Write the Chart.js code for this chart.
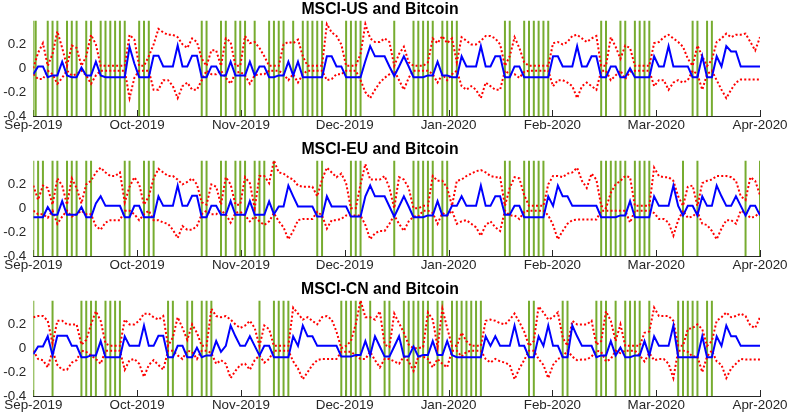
<!DOCTYPE html>
<html><head><meta charset="utf-8">
<script src="https://cdn.jsdelivr.net/npm/chart.js@4"></script>
<style>
html,body{margin:0;padding:0;background:#fff;}
#wrap{position:relative;width:790px;height:416px;overflow:hidden;background:#fff;}
.panel{position:absolute;left:0;width:790px;height:140px;}
</style></head><body>
<div id="wrap">
<div class="panel" style="top:0px"><canvas id="c0" width="790" height="140"></canvas></div>
<div class="panel" style="top:140px"><canvas id="c1" width="790" height="140"></canvas></div>
<div class="panel" style="top:280px"><canvas id="c2" width="790" height="140"></canvas></div>
</div>
<script>
const monthLabels = ['Sep-2019','Oct-2019','Nov-2019','Dec-2019','Jan-2020','Feb-2020','Mar-2020','Apr-2020'];
const yTickValues = [-0.4, -0.2, 0, 0.2];
const yMin = -0.4, yMax = 0.4;
const titles = ['MSCI-US and Bitcoin', 'MSCI-EU and Bitcoin', 'MSCI-CN and Bitcoin'];

// ---------- MSCI-US ----------
const usMid = [
-0.05,0.015,0.015,-0.075,-0.06,-0.06,0.055,-0.06,-0.075,-0.075,
0.005,-0.06,-0.06,0.055,-0.06,-0.075,-0.075,-0.075,-0.075,-0.075,
0.18,0.04,-0.075,-0.075,-0.075,0.105,0.105,0.015,0.015,0.015,
0.19,0.015,0.015,0.105,0.105,-0.075,-0.075,0.015,0.015,-0.06,
-0.06,0.055,-0.06,-0.06,-0.06,0.055,-0.06,0.015,0.015,-0.075,
-0.075,-0.06,-0.06,0.055,-0.06,0.055,-0.075,-0.075,-0.075,-0.075,
-0.075,0.1,0.1,0.015,0.015,-0.075,-0.075,-0.075,-0.075,0.06,
0.185,0.1,0.1,0.1,0.015,-0.065,0.015,0.1,0.015,-0.075,
-0.075,-0.075,-0.06,-0.06,0.055,-0.06,-0.06,-0.075,-0.075,0.1,
0.015,0.015,0.015,0.185,0.015,0.015,0.1,0.1,-0.075,-0.075,
0.015,0.015,-0.075,-0.075,-0.075,-0.075,-0.075,-0.075,0.1,0.1,
0.015,0.015,0.015,0.185,0.015,0.015,0.1,0.1,-0.075,-0.075,
0.015,0.015,-0.075,-0.075,0.0,-0.075,-0.075,-0.075,-0.075,0.1,
0.015,0.015,0.185,0.015,0.015,0.015,0.015,-0.075,-0.075,0.1,
-0.075,-0.075,0.1,0.015,0.185,0.14,0.14,0.015,0.015,0.015,
0.015,0.015];
const usHi = [
0.0,0.13,0.21,0.02,0.12,0.31,0.17,0.02,0.19,0.17,
0.02,0.1,0.28,0.2,0.02,0.02,0.02,0.02,0.02,0.02,
0.28,0.24,0.02,0.02,0.1,0.2,0.33,0.3,0.28,0.28,
0.26,0.2,0.17,0.25,0.22,0.08,0.02,0.15,0.15,0.02,
0.25,0.22,0.02,0.02,0.27,0.21,0.22,0.17,0.1,0.02,
0.02,0.02,0.2,0.22,0.21,0.24,0.1,0.02,0.02,0.02,
0.02,0.37,0.3,0.27,0.2,0.02,0.02,0.02,0.12,0.37,
0.25,0.22,0.22,0.25,0.22,0.02,0.12,0.18,0.05,0.02,
0.02,0.02,0.05,0.25,0.21,0.27,0.21,0.25,0.05,0.26,
0.23,0.2,0.2,0.23,0.27,0.27,0.25,0.2,0.02,0.1,
0.26,0.17,0.05,0.02,0.02,0.02,0.02,0.02,0.21,0.22,
0.2,0.22,0.27,0.28,0.25,0.22,0.25,0.27,0.02,0.02,
0.26,0.18,0.08,0.19,0.17,0.02,0.02,0.02,0.02,0.21,
0.22,0.26,0.28,0.25,0.22,0.18,0.08,0.02,0.19,0.1,
0.02,0.07,0.22,0.25,0.29,0.26,0.28,0.28,0.29,0.22,
0.15,0.26];
const usLo = [
-0.05,-0.09,-0.09,-0.02,-0.05,-0.13,-0.08,-0.02,-0.06,-0.05,
-0.02,-0.06,-0.13,-0.06,-0.02,-0.02,-0.02,-0.02,-0.02,-0.02,
-0.25,-0.08,-0.02,-0.02,-0.02,-0.18,-0.18,-0.1,-0.1,-0.15,
-0.25,-0.15,-0.12,-0.18,-0.18,-0.1,-0.02,-0.05,-0.05,-0.02,
-0.08,-0.13,-0.04,-0.03,-0.06,-0.13,-0.06,-0.05,-0.05,-0.02,
-0.02,-0.02,-0.05,-0.1,-0.05,-0.12,-0.05,-0.02,-0.02,-0.02,
-0.02,-0.1,-0.09,-0.05,-0.05,-0.02,-0.02,-0.02,-0.1,-0.2,
-0.25,-0.18,-0.12,-0.08,-0.05,-0.02,-0.1,-0.18,-0.08,-0.02,
-0.02,-0.02,-0.02,-0.05,-0.12,-0.05,-0.1,-0.05,-0.02,-0.15,
-0.18,-0.15,-0.18,-0.25,-0.12,-0.15,-0.18,-0.18,-0.02,-0.05,
-0.05,-0.08,-0.03,-0.02,-0.02,-0.02,-0.02,-0.02,-0.15,-0.1,
-0.1,-0.12,-0.15,-0.25,-0.15,-0.12,-0.15,-0.18,-0.02,-0.02,
-0.1,-0.06,-0.02,-0.09,-0.03,-0.02,-0.02,-0.02,-0.02,-0.15,
-0.1,-0.1,-0.18,-0.12,-0.1,-0.12,-0.1,-0.02,-0.05,-0.18,
-0.05,-0.02,-0.1,-0.18,-0.25,-0.18,-0.12,-0.095,-0.095,-0.095,
-0.095,-0.095];
const usMarks = [0,0.5,3,4,5,7,8,9,11,12,14,15,16,17,18,19,22,23,24,35,36,39,40,42,43,44,46,
49,50,51,52,54,56,57,58,59,60,65,66,67,68,75,79,80,81,82,83,85,86,87,88,98,99,
102,103,104,105,106,107,118,119,122,123,125,126,127,128,137,138,140,141];

// ---------- MSCI-EU ----------
const euMid = [
-0.075,-0.075,-0.075,0.01,-0.055,-0.055,0.06,-0.055,-0.055,-0.055,
0.01,-0.075,-0.075,0.04,0.1,0.02,0.02,0.02,0.02,-0.075,
-0.075,0.02,0.02,-0.075,-0.075,-0.075,0.1,0.02,0.02,0.02,
0.19,0.02,0.02,0.105,0.105,-0.075,-0.075,0.02,0.02,-0.055,
-0.055,0.06,-0.055,-0.055,-0.055,0.06,-0.055,-0.055,-0.055,0.057,
-0.05,0.015,0.015,0.19,0.1,0.015,0.015,0.015,0.015,-0.07,
-0.07,0.1,0.015,0.015,0.015,0.015,-0.07,-0.07,-0.07,0.1,
0.19,0.1,0.1,0.1,0.015,-0.07,0.015,0.1,0.015,-0.075,
-0.075,-0.075,-0.06,-0.06,0.06,-0.06,-0.06,0.02,0.02,0.1,
0.02,0.02,0.02,0.19,0.02,0.02,0.1,0.1,-0.055,-0.055,
0.02,0.02,-0.075,-0.075,-0.075,-0.075,-0.075,0.1,0.02,0.19,
0.1,0.1,0.02,0.02,0.02,0.02,0.02,0.02,-0.075,-0.075,
-0.075,-0.075,-0.06,-0.06,0.06,-0.075,-0.075,-0.075,-0.075,0.1,
0.02,0.02,0.02,0.19,0.02,-0.06,0.02,0.02,-0.06,0.1,
0.02,0.02,0.19,0.1,0.02,0.02,0.1,0.02,-0.06,0.02,
0.02,-0.06];
const euHi = [
0.19,0.07,0.19,0.17,0.03,0.25,0.19,0.03,0.25,0.17,
0.04,0.2,0.23,0.3,0.34,0.3,0.27,0.27,0.3,0.05,
0.18,0.26,0.2,0.03,0.1,0.25,0.33,0.3,0.27,0.27,
0.24,0.2,0.22,0.25,0.2,0.05,0.03,0.2,0.18,0.03,
0.26,0.2,0.03,0.03,0.26,0.21,0.0,0.27,0.27,0.21,
0.4,0.3,0.29,0.26,0.24,0.19,0.18,0.18,0.18,0.1,
0.24,0.34,0.3,0.26,0.29,0.21,0.0,0.0,0.2,0.37,
0.24,0.24,0.24,0.27,0.17,0.0,0.26,0.24,0.17,0.0,
0.0,0.02,0.02,0.27,0.23,0.23,0.17,0.02,0.23,0.24,
0.27,0.29,0.31,0.32,0.3,0.27,0.26,0.26,0.02,0.17,
0.26,0.25,0.11,0.02,0.02,0.02,0.02,0.2,0.27,0.27,
0.26,0.29,0.3,0.34,0.23,0.17,0.29,0.24,0.02,0.0,
0.13,0.2,0.23,0.27,0.26,0.02,0.02,0.02,0.02,0.34,
0.27,0.26,0.26,0.23,0.1,0.02,0.18,0.19,0.02,0.21,
0.23,0.24,0.27,0.27,0.27,0.26,0.23,0.1,0.07,0.26,
0.23,0.11];
const euLo = [
-0.02,-0.05,-0.05,-0.08,-0.02,-0.13,-0.07,-0.02,-0.07,-0.05,
-0.02,-0.05,-0.05,-0.15,-0.18,-0.12,-0.1,-0.1,-0.1,-0.02,
-0.02,-0.05,-0.1,-0.05,-0.02,-0.1,-0.1,-0.12,-0.13,-0.18,
-0.25,-0.15,-0.18,-0.18,-0.15,-0.05,-0.02,-0.05,-0.05,-0.02,
-0.05,-0.12,-0.04,-0.03,-0.06,-0.11,-0.07,-0.11,-0.14,-0.11,
-0.04,-0.11,-0.16,-0.26,-0.19,-0.1,-0.09,-0.09,-0.09,-0.03,
-0.06,-0.17,-0.1,-0.1,-0.09,-0.06,-0.06,-0.06,-0.06,-0.14,
-0.26,-0.21,-0.19,-0.19,-0.13,-0.06,-0.13,-0.19,-0.11,-0.07,
-0.07,-0.02,-0.02,-0.04,-0.13,-0.04,-0.06,-0.02,-0.13,-0.11,
-0.1,-0.13,-0.16,-0.23,-0.14,-0.11,-0.16,-0.19,-0.02,-0.06,
-0.06,-0.09,-0.03,-0.02,-0.02,-0.02,-0.02,-0.06,-0.14,-0.26,
-0.19,-0.13,-0.1,-0.095,-0.095,-0.095,-0.095,-0.095,-0.02,-0.02,
-0.02,-0.02,-0.02,-0.02,-0.12,-0.02,-0.02,-0.02,-0.02,-0.04,
-0.09,-0.09,-0.12,-0.23,-0.1,-0.02,-0.08,-0.07,-0.03,-0.13,
-0.14,-0.19,-0.26,-0.17,-0.1,-0.1,-0.13,-0.02,-0.04,-0.08,
-0.07,-0.03];
const euMarks = [0,1,2,4,5,7,8,9,11,12,19,20,23,24,25,35,36,39,40,42,43,44,46,47,48,50,
59,60,66,67,68,75,79,80,81,82,83,85,86,98,99,102,103,104,105,106,
118,119,120,121,122,123,125,126,127,128,135,138,148,151];

// ---------- MSCI-CN ----------
const cnMid = [
-0.05,0.015,0.015,0.1,-0.06,0.105,0.105,0.105,0.02,0.02,
-0.075,-0.075,-0.06,-0.06,0.06,-0.075,-0.075,-0.075,-0.075,0.1,
0.02,0.02,0.02,0.19,0.02,0.02,0.105,0.105,-0.075,-0.075,
0.02,0.02,-0.075,-0.075,0.005,-0.075,-0.06,-0.06,0.06,-0.03,
0.02,0.19,0.1,0.02,0.02,0.1,0.02,-0.06,0.02,0.02,
-0.075,-0.075,-0.075,-0.075,0.1,0.02,0.19,0.1,0.1,0.02,
0.02,0.02,0.02,0.02,-0.07,-0.07,-0.07,-0.057,-0.057,0.06,
-0.057,0.1,0.015,-0.07,-0.07,0.015,0.1,-0.07,-0.07,0.015,
-0.07,-0.057,-0.057,0.06,-0.057,-0.057,0.06,-0.057,-0.075,-0.075,
-0.075,-0.075,-0.075,-0.075,0.1,0.02,0.1,0.02,0.02,0.02,
0.19,0.02,0.02,-0.075,-0.075,0.1,0.02,0.19,0.02,0.02,
-0.075,-0.075,0.19,0.1,0.02,0.02,0.02,-0.075,-0.06,-0.06,
0.06,-0.06,0.005,-0.075,-0.075,-0.06,-0.06,0.06,-0.06,0.1,
0.02,0.02,0.02,0.19,-0.075,-0.075,-0.075,-0.075,-0.075,0.1,
-0.075,-0.075,0.1,0.02,0.19,0.1,0.1,0.02,0.02,0.02,
0.02,0.02];
const cnHi = [
0.26,0.27,0.27,0.23,0.04,0.23,0.23,0.2,0.2,0.2,
0.03,0.07,0.2,0.31,0.23,0.04,0.02,0.02,0.02,0.24,
0.2,0.2,0.23,0.29,0.29,0.26,0.24,0.27,0.02,0.09,
0.26,0.17,0.07,0.2,0.13,0.02,0.02,0.33,0.27,0.26,
0.27,0.24,0.2,0.17,0.19,0.23,0.17,0.02,0.19,0.16,
0.02,0.02,0.02,0.02,0.34,0.29,0.24,0.26,0.23,0.2,
0.26,0.27,0.24,0.14,0.0,0.02,0.06,0.2,0.4,0.26,
0.26,0.24,0.31,0.03,0.01,0.29,0.21,0.13,0.03,0.0,
0.0,0.01,0.3,0.24,0.01,0.33,0.17,0.02,0.02,0.13,
0.06,0.02,0.02,0.02,0.23,0.24,0.23,0.21,0.2,0.24,
0.29,0.22,0.14,0.02,0.06,0.35,0.3,0.24,0.26,0.3,
0.09,0.02,0.23,0.2,0.2,0.2,0.23,0.03,0.06,0.31,
0.23,0.06,0.2,0.02,0.02,0.02,0.02,0.13,0.14,0.34,
0.27,0.27,0.27,0.23,0.02,0.02,0.16,0.17,0.2,0.16,
0.02,0.06,0.23,0.26,0.3,0.26,0.27,0.29,0.27,0.19,
0.17,0.26];
const cnLo = [
-0.02,-0.09,-0.1,-0.16,-0.02,-0.14,-0.18,-0.18,-0.12,-0.1,
-0.02,-0.03,-0.06,-0.09,-0.13,-0.02,-0.02,-0.02,-0.02,-0.18,
-0.1,-0.09,-0.13,-0.24,-0.14,-0.1,-0.14,-0.18,-0.02,-0.02,
-0.06,-0.09,-0.02,-0.03,-0.09,-0.02,-0.02,-0.04,-0.13,-0.1,
-0.13,-0.25,-0.19,-0.14,-0.13,-0.18,-0.1,-0.06,-0.12,-0.09,
-0.02,-0.02,-0.02,-0.02,-0.11,-0.17,-0.26,-0.2,-0.14,-0.1,
-0.09,-0.09,-0.09,-0.09,-0.03,-0.03,-0.03,-0.06,-0.09,-0.09,
-0.03,-0.1,-0.16,-0.09,-0.09,-0.11,-0.13,-0.07,-0.11,-0.19,
-0.07,-0.07,-0.09,-0.16,-0.09,-0.13,-0.16,-0.02,-0.02,-0.07,
-0.03,-0.02,-0.02,-0.02,-0.09,-0.12,-0.09,-0.11,-0.12,-0.14,
-0.26,-0.17,-0.1,-0.02,-0.02,-0.09,-0.14,-0.25,-0.14,-0.09,
-0.07,-0.02,-0.07,-0.1,-0.095,-0.095,-0.07,-0.02,-0.03,-0.11,
-0.09,-0.02,-0.04,-0.02,-0.02,-0.02,-0.06,-0.11,-0.04,-0.1,
-0.09,-0.09,-0.13,-0.25,-0.02,-0.02,-0.03,-0.07,-0.07,-0.2,
-0.07,-0.02,-0.11,-0.14,-0.25,-0.17,-0.13,-0.09,-0.095,-0.095,
-0.095,-0.095];
const cnMarks = [0,4,10,11,12,13,15,16,17,18,28,29,32,33,35,36,37,47,50,51,52,53,
64,65,66,67,68,70,73,74,77,78,79,80,81,82,84,85,87,88,89,90,91,92,93,
103,104,110,111,117,118,119,121,123,124,125,126,128,134,135,136,137,138,140,141];

const FONT = '"Liberation Sans", Arial, Helvetica, sans-serif';
const TXT = '#262626';

const tickMarks = {
  id: 'tickMarks',
  beforeDatasetsDraw(chart) {
    const {ctx, chartArea, scales} = chart;
    const x = scales.x;
    ctx.save();
    ctx.strokeStyle = TXT;
    ctx.lineWidth = 1;
    x.ticks.forEach(t => {
      const px = Math.round(x.getPixelForValue(t.value)) + 0.5;
      ctx.beginPath();
      ctx.moveTo(px, chartArea.bottom);
      ctx.lineTo(px, chartArea.bottom - 6);
      ctx.stroke();
    });
    ctx.restore();
  }
};

function makeChart(id, title, mid, hi, lo, marks) {
  const last = mid.length - 1;
  const toPts = arr => arr.map((v, i) => ({x: i, y: v}));
  const markPts = [];
  marks.forEach(g => { markPts.push({x: g, y: yMin}, {x: g, y: yMax}, {x: g, y: null}); });
  const xTickValues = monthLabels.map((_, k) => k * last / (monthLabels.length - 1));
  new Chart(document.getElementById(id), {
    type: 'line',
    data: {
      datasets: [
        {data: toPts(mid), borderColor: '#0000FF', borderWidth: 2, pointRadius: 0, tension: 0},
        {data: toPts(hi), borderColor: '#FF0000', borderWidth: 2, borderDash: [2, 2.2], pointRadius: 0, tension: 0},
        {data: toPts(lo), borderColor: '#FF0000', borderWidth: 2, borderDash: [2, 2.2], pointRadius: 0, tension: 0},
        {data: markPts, borderColor: '#77AC30', borderWidth: 2, pointRadius: 0, spanGaps: false}
      ]
    },
    options: {
      responsive: false,
      animation: false,
      events: [],
      layout: {padding: {left: 0, right: 30, top: 0, bottom: 0}},
      plugins: {
        legend: {display: false},
        tooltip: {enabled: false},
        title: {
          display: true, text: title, color: '#000',
          font: {family: FONT, size: 15.8, weight: 'bold', lineHeight: 1},
          padding: {top: 1.5, bottom: 3.2}
        }
      },
      scales: {
        x: {
          type: 'linear', min: 0, max: last,
          grid: {display: false, drawTicks: false},
          border: {display: true, color: TXT, width: 1},
          ticks: {
            autoSkip: false, maxRotation: 0, padding: 1.5, color: TXT,
            font: {family: FONT, size: 13.4},
            callback: (v, i) => monthLabels[i]
          },
          afterBuildTicks: s => { s.ticks = xTickValues.map(v => ({value: v})); },
          afterFit: s => { s.height = 24; }
        },
        y: {
          min: yMin, max: yMax,
          grid: {display: false, drawTicks: false},
          border: {display: false},
          ticks: {
            padding: 7, color: TXT,
            font: {family: FONT, size: 13.4},
            callback: v => String(v)
          },
          afterBuildTicks: s => { s.ticks = yTickValues.map(v => ({value: v})); },
          afterFit: s => { s.width = 33.3; }
        }
      }
    },
    plugins: [tickMarks]
  });
}

makeChart('c0', titles[0], usMid, usHi, usLo, usMarks);
makeChart('c1', titles[1], euMid, euHi, euLo, euMarks);
makeChart('c2', titles[2], cnMid, cnHi, cnLo, cnMarks);
</script>
</body></html>
